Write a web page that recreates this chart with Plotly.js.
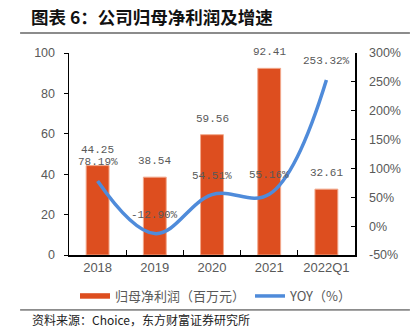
<!DOCTYPE html>
<html>
<head>
<meta charset="utf-8">
<script src="https://cdn.plot.ly/plotly-3.0.1.min.js"></script>
<style>html,body{margin:0;padding:0;background:#fff;}#chart{width:414px;height:330px;}</style>
</head>
<body>
<div id="chart"></div>
<script>
var categories = ['2018', '2019', '2020', '2021', '2022Q1'];
var netProfit = [44.25, 38.54, 59.56, 92.41, 32.61];
var yoyPct = [78.19, -12.90, 54.51, 55.16, 253.32];
var leftTicks = [0, 20, 40, 60, 80, 100];
var rightTicks = [-50, 0, 50, 100, 150, 200, 250, 300];

var barColor = '#DD4E1F';
var lineColor = '#4F8BDA';
var labelFont = {family: 'Liberation Mono, DejaVu Sans Mono, monospace', size: 11, color: '#595959'};
var cjk = 'Noto Sans CJK SC, sans-serif';

var traces = [
  {type: 'bar', x: categories, y: netProfit, width: 0.4, name: '归母净利润（百万元）', showlegend: false,
   marker: {color: barColor, line: {color: '#F2A98C', width: 1}}, hoverinfo: 'none'},
  {type: 'scatter', mode: 'lines', x: categories, y: categories.map(function(){return null;}), name: '归母净利润（百万元）',
   line: {color: barColor, width: 5.5}, hoverinfo: 'none'},
  {type: 'scatter', mode: 'lines', x: categories, y: yoyPct, yaxis: 'y2', name: 'YOY（%）',
   line: {color: lineColor, width: 3.5, shape: 'spline', smoothing: 1.1}, hoverinfo: 'none'}
];

var annotations = [];
categories.forEach(function(c, i) {
  annotations.push({x: i, y: netProfit[i], xref: 'x', yref: 'y', text: netProfit[i].toFixed(2),
    showarrow: false, yshift: 16, font: labelFont, borderpad: 0});
  annotations.push({x: i, y: yoyPct[i], xref: 'x', yref: 'y2', text: yoyPct[i].toFixed(2) + '%',
    showarrow: false, yshift: 19, font: labelFont, borderpad: 0});
});
annotations.push({xref: 'paper', yref: 'paper', x: -0.136, y: -0.317, xanchor: 'left', yanchor: 'middle',
  showarrow: false, text: '资料来源：Choice，东方财富证券研究所', font: {family: cjk, size: 12, color: '#222'}});

var layout = {
  width: 414, height: 330,
  margin: {l: 69, r: 59, t: 53, b: 75},
  paper_bgcolor: '#fff', plot_bgcolor: '#fff',
  showlegend: true,
  title: {text: '<b>图表 6：公司归母净利润及增速</b>', x: 31/414, xanchor: 'left', xref: 'container',
    y: 1 - 18/330, yanchor: 'middle', yref: 'container', font: {family: cjk, size: 17.5, color: '#111'}},
  xaxis: {type: 'category', range: [-0.5, 4.5], showline: true, linecolor: '#000', linewidth: 1.5,
    ticks: 'inside', tickson: 'boundaries', ticklen: 5, tickcolor: '#000', tickwidth: 1,
    tickfont: {family: 'Liberation Sans, Arial, sans-serif', size: 13, color: '#595959'}, showgrid: false, zeroline: false},
  yaxis: {range: [0, 100], tickvals: leftTicks, showline: true, linecolor: '#000', linewidth: 1.5,
    ticks: 'outside', ticklen: 4, tickcolor: '#000', ticklabelstandoff: 6,
    tickfont: {family: 'Liberation Sans, Arial, sans-serif', size: 12.5, color: '#595959'}, showgrid: false, zeroline: false},
  yaxis2: {range: [-50, 300], tickvals: rightTicks, ticktext: rightTicks.map(function(v){return v + '%';}),
    overlaying: 'y', side: 'right', showline: true, linecolor: '#000', linewidth: 1.5,
    ticks: 'inside', ticklen: 4, tickcolor: '#000', ticklabelstandoff: 10,
    tickfont: {family: 'Liberation Sans, Arial, sans-serif', size: 12.5, color: '#595959'}, showgrid: false, zeroline: false},
  legend: {orientation: 'h', x: 0.514, xanchor: 'center', y: -0.203, yanchor: 'middle',
    font: {family: cjk, size: 13, color: '#595959'}, bgcolor: 'rgba(0,0,0,0)'},
  annotations: annotations,
  shapes: [
    {type: 'line', xref: 'paper', yref: 'paper', x0: -0.171, x1: 1.192, y0: 1.099, y1: 1.099, line: {color: '#666', width: 1.5}},
    {type: 'line', xref: 'paper', yref: 'paper', x0: -0.171, x1: 1.192, y0: -0.272, y1: -0.272, line: {color: '#333', width: 1}}
  ]
};

Plotly.newPlot('chart', traces, layout, {displayModeBar: false, staticPlot: true});
</script>
</body>
</html>
